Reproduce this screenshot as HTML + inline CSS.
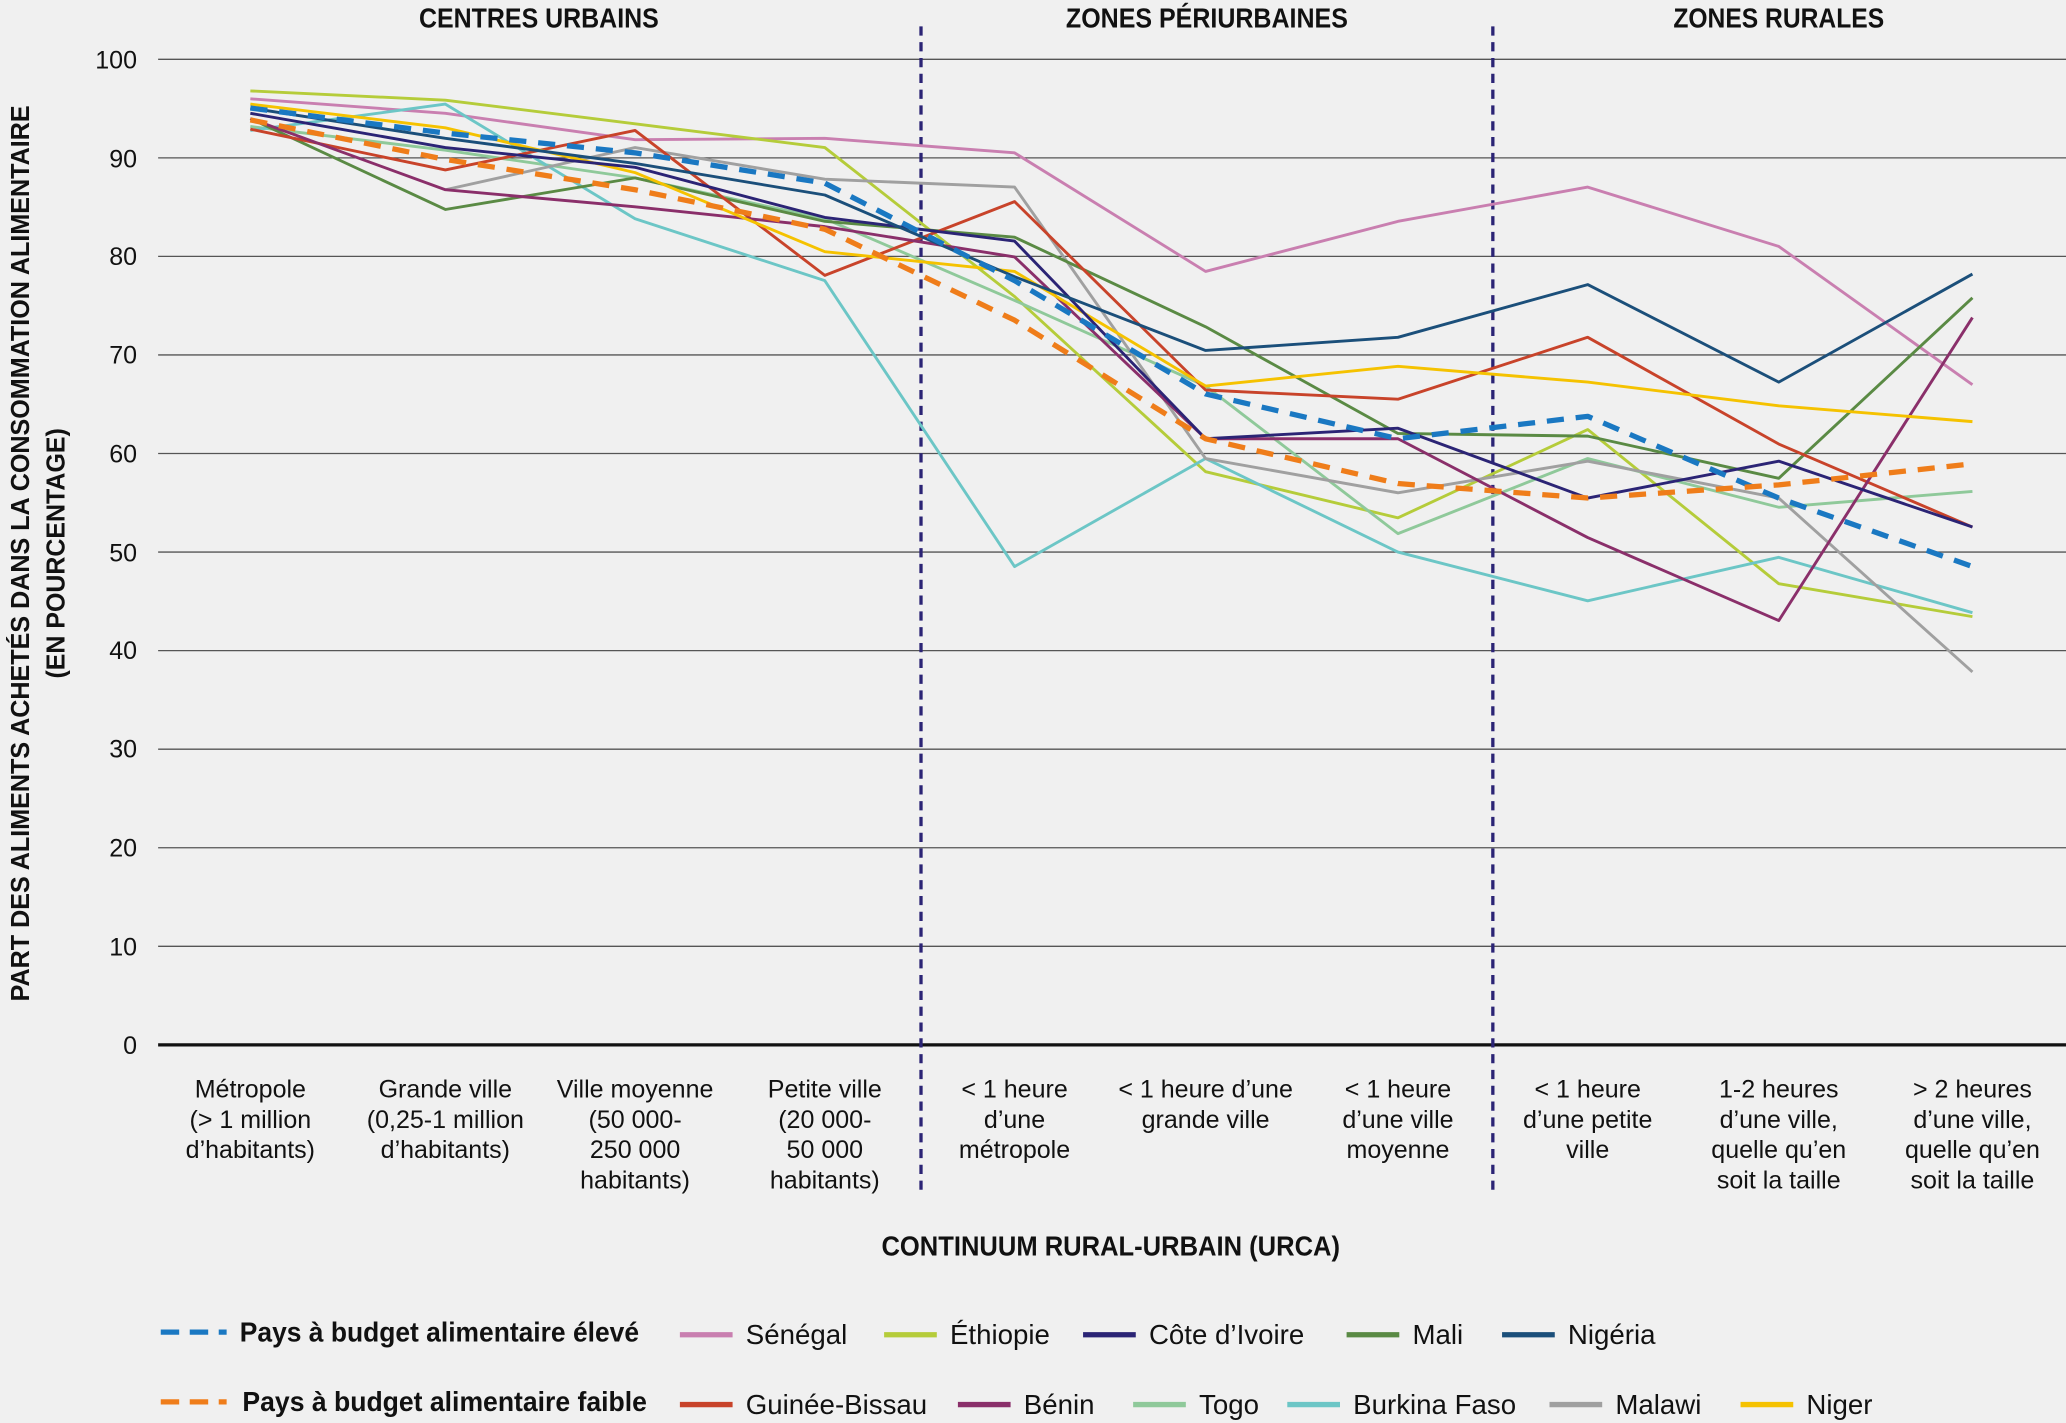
<!DOCTYPE html>
<html><head><meta charset="utf-8"><style>
html,body{margin:0;padding:0;background:#f0f0f0;}
svg{display:block;}
text{font-family:"Liberation Sans Narrow","Liberation Sans",sans-serif;fill:#111;}
</style></head><body>
<svg width="2066" height="1423" viewBox="0 0 1568 1080" xmlns="http://www.w3.org/2000/svg">
<rect width="1568" height="1080" fill="#f0f0f0"/>
<g stroke="#555" stroke-width="1">
<line x1="120" x2="1568" y1="45" y2="45"/><line x1="120" x2="1568" y1="119.8" y2="119.8"/>
<line x1="120" x2="1568" y1="194.6" y2="194.6"/><line x1="120" x2="1568" y1="269.4" y2="269.4"/>
<line x1="120" x2="1568" y1="344.2" y2="344.2"/><line x1="120" x2="1568" y1="419" y2="419"/>
<line x1="120" x2="1568" y1="493.8" y2="493.8"/><line x1="120" x2="1568" y1="568.6" y2="568.6"/>
<line x1="120" x2="1568" y1="643.4" y2="643.4"/><line x1="120" x2="1568" y1="718.2" y2="718.2"/>
</g>
<line x1="120" x2="1568" y1="793" y2="793" stroke="#111" stroke-width="2.5"/>
<g font-size="19" text-anchor="end">
<text x="104" y="52">100</text><text x="104" y="127">90</text><text x="104" y="201">80</text>
<text x="104" y="276">70</text><text x="104" y="351">60</text><text x="104" y="426">50</text>
<text x="104" y="500">40</text><text x="104" y="575">30</text><text x="104" y="650">20</text>
<text x="104" y="725">10</text><text x="104" y="800">0</text>
</g>
<g stroke="#2b2475" stroke-width="2.5" stroke-dasharray="7,5">
<line x1="699" x2="699" y1="20" y2="905"/><line x1="1133" x2="1133" y1="20" y2="905"/>
</g>
<g font-size="21" font-weight="bold" text-anchor="middle">
<text x="409" y="21" textLength="182" lengthAdjust="spacingAndGlyphs">CENTRES URBAINS</text>
<text x="916" y="21" textLength="214" lengthAdjust="spacingAndGlyphs">ZONES PÉRIURBAINES</text>
<text x="1350" y="21" textLength="160" lengthAdjust="spacingAndGlyphs">ZONES RURALES</text>
<text x="843" y="953" textLength="348" lengthAdjust="spacingAndGlyphs">CONTINUUM RURAL-URBAIN (URCA)</text>
</g>
<g font-size="20" font-weight="bold" text-anchor="middle">
<text transform="translate(22,420) rotate(-90)" textLength="680" lengthAdjust="spacingAndGlyphs">PART DES ALIMENTS ACHETÉS DANS LA CONSOMMATION ALIMENTAIRE</text>
<text transform="translate(49,420) rotate(-90)" textLength="190" lengthAdjust="spacingAndGlyphs">(EN POURCENTAGE)</text>
</g>
<g font-size="19" text-anchor="middle">
<text x="190" y="833">Métropole</text><text x="190" y="856">(&gt; 1 million</text><text x="190" y="879">d’habitants)</text>
<text x="338" y="833">Grande ville</text><text x="338" y="856">(0,25-1 million</text><text x="338" y="879">d’habitants)</text>
<text x="482" y="833">Ville moyenne</text><text x="482" y="856">(50 000-</text><text x="482" y="879">250 000</text><text x="482" y="902">habitants)</text>
<text x="626" y="833">Petite ville</text><text x="626" y="856">(20 000-</text><text x="626" y="879">50 000</text><text x="626" y="902">habitants)</text>
<text x="770" y="833">&lt; 1 heure</text><text x="770" y="856">d’une</text><text x="770" y="879">métropole</text>
<text x="915" y="833">&lt; 1 heure d’une</text><text x="915" y="856">grande ville</text>
<text x="1061" y="833">&lt; 1 heure</text><text x="1061" y="856">d’une ville</text><text x="1061" y="879">moyenne</text>
<text x="1205" y="833">&lt; 1 heure</text><text x="1205" y="856">d’une petite</text><text x="1205" y="879">ville</text>
<text x="1350" y="833">1-2 heures</text><text x="1350" y="856">d’une ville,</text><text x="1350" y="879">quelle qu’en</text><text x="1350" y="902">soit la taille</text>
<text x="1497" y="833">&gt; 2 heures</text><text x="1497" y="856">d’une ville,</text><text x="1497" y="879">quelle qu’en</text><text x="1497" y="902">soit la taille</text>
</g>
<g fill="none" stroke-width="2.2" stroke-linejoin="round">
<polyline stroke="#c97fb0" points="190,75 338,86 482,106 626,105 770,116 915,206 1061,168 1205,142 1350,187 1497,292"/>
<polyline stroke="#b5cc3a" points="190,69 338,76 482,94 626,112 770,225 915,358 1061,393 1205,326 1350,443 1497,468"/>
<polyline stroke="#8fc99a" points="190,96 338,114 482,135 626,166 770,228 915,293 1061,405 1205,348 1350,385 1497,373"/>
<polyline stroke="#6cc6c6" points="190,99 338,79 482,166 626,213 770,430 915,348 1061,419 1205,456 1350,423 1497,465"/>
<polyline stroke="#a0a0a0" points="338,144 482,112 626,136 770,142 915,348 1061,374 1205,350 1350,378 1497,510"/>
<polyline stroke="#5a8a44" points="190,90 338,159 482,135 626,168 770,180 915,248 1061,329 1205,331 1350,363 1497,226"/>
<polyline stroke="#c8432a" points="190,98 338,129 482,99 626,209 770,153 915,296 1061,303 1205,256 1350,337 1497,400"/>
<polyline stroke="#8a2f6a" points="190,90 338,144 482,157 626,172 770,195 915,333 1061,333 1205,408 1350,471 1497,241"/>
<polyline stroke="#f5c200" points="190,79 338,97 482,131 626,191 770,206 915,293 1061,278 1205,290 1350,308 1497,320"/>
<polyline stroke="#2b2475" points="190,86 338,112 482,127 626,165 770,183 915,333 1061,325 1205,378 1350,350 1497,400"/>
<polyline stroke="#1b4f7a" points="190,82 338,105 482,124 626,148 770,210 915,266 1061,256 1205,216 1350,290 1497,208"/>
<polyline stroke="#1a78c2" stroke-width="4" stroke-dasharray="13,9" points="190,82 338,101 482,116 626,139 770,213 915,299 1061,333 1205,316 1350,378 1497,430"/>
<polyline stroke="#ef7d1a" stroke-width="4" stroke-dasharray="13,9" points="190,91 338,121 482,144 626,174 770,243 915,333 1061,367 1205,378 1350,368 1497,352"/>
</g>
<g stroke-width="4">
<line x1="122" x2="172" y1="1011" y2="1011" stroke="#1a78c2" stroke-dasharray="14,8"/>
<line x1="122" x2="172" y1="1064" y2="1064" stroke="#ef7d1a" stroke-dasharray="14,8"/>
<line x1="516" x2="556" y1="1013" y2="1013" stroke="#c97fb0"/>
<line x1="671" x2="711" y1="1013" y2="1013" stroke="#b5cc3a"/>
<line x1="822" x2="862" y1="1013" y2="1013" stroke="#2b2475"/>
<line x1="1022" x2="1062" y1="1013" y2="1013" stroke="#5a8a44"/>
<line x1="1140" x2="1180" y1="1013" y2="1013" stroke="#1b4f7a"/>
<line x1="516" x2="556" y1="1066" y2="1066" stroke="#c8432a"/>
<line x1="727" x2="767" y1="1066" y2="1066" stroke="#8a2f6a"/>
<line x1="860" x2="900" y1="1066" y2="1066" stroke="#8fc99a"/>
<line x1="977" x2="1017" y1="1066" y2="1066" stroke="#6cc6c6"/>
<line x1="1176" x2="1216" y1="1066" y2="1066" stroke="#a0a0a0"/>
<line x1="1321" x2="1361" y1="1066" y2="1066" stroke="#f5c200"/>
</g>
<g font-size="21">
<text x="182" y="1018" font-weight="bold" textLength="303" lengthAdjust="spacingAndGlyphs">Pays à budget alimentaire élevé</text>
<text x="184" y="1071" font-weight="bold" textLength="307" lengthAdjust="spacingAndGlyphs">Pays à budget alimentaire faible</text>
<text x="566" y="1020">Sénégal</text><text x="721" y="1020">Éthiopie</text><text x="872" y="1020">Côte d’Ivoire</text>
<text x="1072" y="1020">Mali</text><text x="1190" y="1020">Nigéria</text>
<text x="566" y="1073">Guinée-Bissau</text><text x="777" y="1073">Bénin</text><text x="910" y="1073">Togo</text>
<text x="1027" y="1073">Burkina Faso</text><text x="1226" y="1073">Malawi</text><text x="1371" y="1073">Niger</text>
</g>
</svg>
</body></html>
